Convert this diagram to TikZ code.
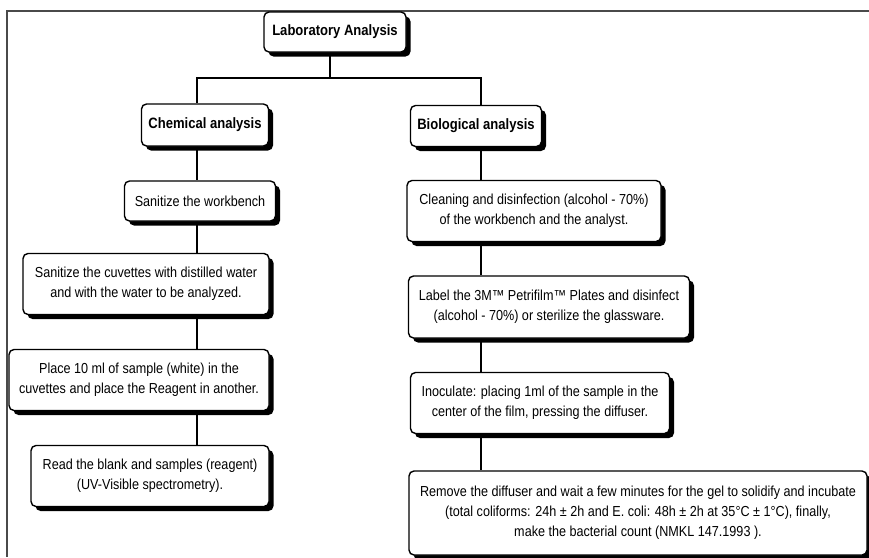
\documentclass[tikz,border=0pt]{standalone}
\usepackage{fontspec}
\setmainfont{Liberation Sans}[FakeStretch=0.87]
\usepackage{tikz}
\usetikzlibrary{positioning,shapes,shadows,calc}
\definecolor{frame_grey}{HTML}{4a4a4a}
\tikzstyle{line} = [draw, line width=1.3pt]
\tikzstyle{default} = [rectangle, draw, line width=1.4pt, rounded corners=5pt, fill=white, text=black, align=center, inner sep=0pt, font=\fontsize{14.5}{20}\selectfont, drop shadow={shadow xshift=4.5pt, shadow yshift=-4.5pt, fill=black, opacity=1}]
\tikzstyle{heading} = [default, font=\fontsize{15}{18}\selectfont\bfseries]
\tikzstyle{stepbox} = [default, minimum height=61pt]
\begin{document}
\begin{tikzpicture}[x=1pt, y=-1pt]
   \useasboundingbox (0,0) rectangle (869,557);
   \fill [white] (0,0) rectangle (869,557);
   \draw [frame_grey, line width=1.5pt] (869,11) -- (7,11) -- (7,557);

   % Columns
   \coordinate (top col) at (330,0);
   \coordinate (chem col) at (197,0);
   \coordinate (bio col) at (481,0);
   \coordinate (split) at (330,78);

   % Top
   \node at (335, 32) [heading, minimum width=142pt, minimum height=40pt] (lab) {Laboratory Analysis};
   \node at (205, 125) [heading, minimum width=127pt, minimum height=42pt] (chem) {Chemical analysis};
   \node at (476, 126) [heading, minimum width=131pt, minimum height=41pt] (bio) {Biological analysis};

   % Chemical analysis
   \node at (200, 201) [default, minimum width=151pt, minimum height=40pt] (workbench) {Sanitize the workbench};
   \node at (146, 284) [stepbox, minimum width=246pt] (cuvettes) {Sanitize the cuvettes with distilled water\\and with the water to be analyzed.};
   \node at (139, 380) [stepbox, minimum width=260pt] (reagent) {Place 10 ml of sample (white) in the\\cuvettes and place the Reagent in another.};
   \node at (150, 476) [stepbox, minimum width=238pt] (read) {Read the blank and samples (reagent)\\(UV-Visible spectrometry).};

   % Biological analysis
   \node at (534, 211) [stepbox, minimum width=254pt] (cleaning) {Cleaning and disinfection (alcohol - 70\%)\\of the workbench and the analyst.};
   \node at (549, 307) [stepbox, minimum width=281pt, minimum height=62pt] (plates) {Label the 3M™ Petrifilm™ Plates and disinfect\\(alcohol - 70\%) or sterilize the glassware.};
   \node at (540, 403) [stepbox, minimum width=259pt] (inoculate) {Inoculate: placing 1ml of the sample in the\\center of the film, pressing the diffuser.};
   \node at (638, 513) [stepbox, minimum width=458pt, minimum height=84pt] (incubate) {Remove the diffuser and wait a few minutes for the gel to solidify and incubate\\(total coliforms: 24h ± 2h and E. coli: 48h ± 2h at 35°C ± 1°C), finally,\\make the bacterial count (NMKL 147.1993 ).};

   % Connectors
   \path [line] (lab.south -| top col) -- (split);
   \path [line] (split) -| (chem.north -| chem col);
   \path [line] (split) -| (bio.north -| bio col);
   \path [line] (chem.south -| chem col) -- (workbench.north -| chem col);
   \path [line] (workbench.south -| chem col) -- (cuvettes.north -| chem col);
   \path [line] (cuvettes.south -| chem col) -- (reagent.north -| chem col);
   \path [line] (reagent.south -| chem col) -- (read.north -| chem col);
   \path [line] (bio.south -| bio col) -- (cleaning.north -| bio col);
   \path [line] (cleaning.south -| bio col) -- (plates.north -| bio col);
   \path [line] (plates.south -| bio col) -- (inoculate.north -| bio col);
   \path [line] (inoculate.south -| bio col) -- (incubate.north -| bio col);
\end{tikzpicture}
\end{document}
